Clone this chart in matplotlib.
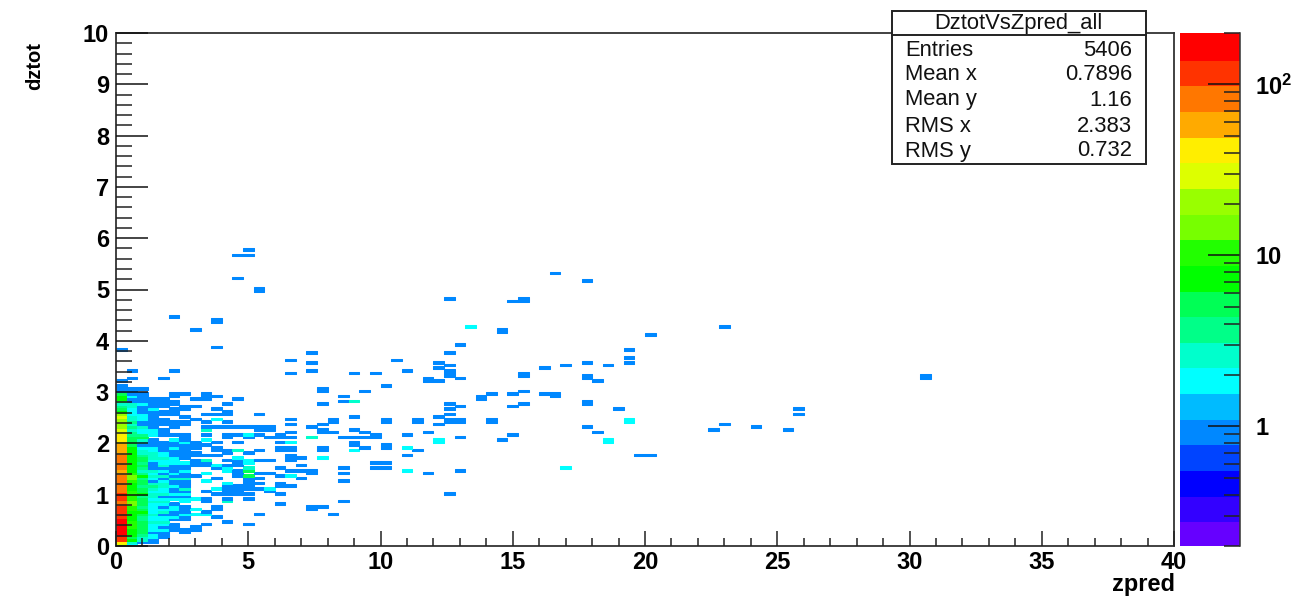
import numpy as np
import matplotlib
matplotlib.use("Agg")
import matplotlib.pyplot as plt
from matplotlib.colors import ListedColormap, LogNorm
from matplotlib.patches import Rectangle
from matplotlib.lines import Line2D
from matplotlib.ticker import NullFormatter

plt.rcParams['font.family'] = ['Liberation Sans', 'DejaVu Sans']
plt.rcParams['mathtext.fontset'] = 'custom'
plt.rcParams['mathtext.bf'] = 'Liberation Sans:bold'
plt.rcParams['mathtext.rm'] = 'Liberation Sans:bold'

# Histogram binning: 100 bins of zpred, 200 bins of dztot
zpred_range = (0, 40)
dztot_range = (0, 10)
n_zpred_bins = 100
n_dztot_bins = 200

# Bin contents of the densest columns, listed upward from dztot = 0
column_0 = [30,40,110,120,150,160,170,170,160,160,150,110,120,110,105,110,85,75,110,120,110,90,90,85,80,90,80,75,65,60,
            75,80,80,80,75,75,65,60,55,52,45,45,48,40,30,28,25,22,25,22,28,20,8,6,4,3,5,8,8,6,1,1,1]
column_1 = [2,3,7,6,7,8,8,9,10,9,8,8,8,8,9,12,13,14,12,10,9,9,8,8,8,9,13,14,12,8,8,
            8,8,7,8,7,8,7,8,6,6,5,5,4,4,3,4,3,4,3,3,2,2,2,3,3,1,1,2,1,1,1]
column_2 = [0,1,3,3,4,5,5,5,6,5,4,4,6,7,5,4,5,6,5,4,7,6,5,4,6,5,4,7,4,3,4,
            5,4,5,6,4,3,3,2,1,2,3,6,4,2,2,3,1,1,2,2,2,1,1,1,2,1,1,1,1,0,1]
column_3 = [0,1,1,2,2,1,2,2,2,3,2,2,3,2,2,2,2,3,2,3,3,2,3,4,3,1,2,3,2,3,1,
            1,1,2,3,3,3,2,2,1,1,1,0,2,2,2,1,1,1,1,1,1,1,2,1,1,1,1]
column_4 = [0,0,0,1,1,1,2,1,2,3,2,2,1,3,2,1,2,3,2,1,3,2,2,3,3,2,1,3,1,2,1,
            3,2,2,3,2,2,1,1,1,1,0,0,1,1,1,0,1,1,1,0,1,1,0,1,1,1,1]
column_5 = [0,0,0,0,0,0,1,1,1,0,1,2,1,1,2,2,1,0,2,1,2,1,1,2,1,1,3,1,2,1,1,
            1,2,2,2,1,1,1,2,1,1,2,0,1,0,0,1,1,1,0,0,1,1,1,0,1,1,0,1,1]
column_6 = [0,0,0,0,0,1,1,0,0,0,1,1,2,1,1,1,0,2,2,1,2,1,3,1,1,1,3,1,1,2,1,
            1,2,0,1,1,1,1,1,1,2,1,1,1,0,0,0,1,1,0,1,0,0,1,1,0,0,0,0,1]

# Isolated bins with one entry: column indices, and the dztot rows filled in each
single_cols = [0,1,4,5,7,8,9,10,11,12,13,14,15,16,17,18,19,20,21,22,23,24,25,26,27,28,29,30,31,32,
               34,35,36,37,38,40,41,42,44,45,46,47,48,49,50,56,57,60,63,64,76]
single_rows = [[64,76],[65,68],[65],[68,89],
               [84,57,54,49,40,39,38,36,35,33,32,31,27,7,6],
               [59,58,57,51,48,46,43,39,35,32,31,21,18,17,13,8],
               [88,87,77,58,53,51,46,40,38,37,35,30,26,20,15,14,11],
               [55,52,51,48,46,43,42,37,36,33,31,23,22,21,20,18,9],
               [113,104,57,46,43,40,33,32,31,29,28,27,23,22,21,20],
               [115,113,46,42,36,26,25,24,23,22,20,18,8],
               [100,99,51,46,45,43,37,33,28,26,24,22,12],
               [46,45,42,33,28,21],
               [43,42,40,38,37,30,27,24,23,20,16],
               [72,67,49,47,44,42,38,37,35,34,33,29,23],
               [34,31,29,26],
               [75,71,68,46,29,28,15,14],
               [61,60,55,47,45,44,38,37,15],
               [49,48,44,12],
               [58,56,42,30,28,25,17],
               [67,50,45,42,40,39],
               [60,44,42,38],
               [67,43,42,32,30],
               [62,49,48,39,38,32,30],
               [72],
               [68,43,35],
               [49,48,37],
               [65,64,44,28],
               [71,69,64,50,47],
               [96,75,70,68,67,66,55,53,51,49,48,20],
               [78,65,54,49,48,42,29],
               [58,57],
               [59,49,48],
               [84,83,41],
               [95,59,54,43],
               [96,95,67,66,60,55],
               [69,59],
               [106,59,58],
               [70],
               [103,71,66,65,56,55,46],
               [64,44],
               [70],
               [53],
               [76,73,71],
               [35],
               [82,35],
               [45],
               [85,47],
               [46],
               [45],
               [53,51],
               [66,65]]

# Isolated bins with two entries
double_cols = [7,8,9,10,11,12,14,16,19,22,27,30,33,42,46,48]
double_rows = [[18,14,12],[41,28,25,12],[49,31,22],[30,29,24],[34],[43,33,32],[22],[40,27],
               [34],[37],[38,29],[41,40],[85],[30],[41,40],[49,48]]

# Isolated bins with three and with five entries
triple_cols = [8,10,11,12,18,22]
triple_rows = [[45,33],[17],[37],[30],[42],[56]]
quintuple_cols = [12]
quintuple_rows = [[29,27]]

# Colour palette of the 20 contour levels, bottom to top
palette = ['#6600ff','#3300ff','#0000ff','#0044ff','#0088ff','#00bbff','#00ffff','#00ffcc','#00ff88','#00ff55',
           '#00ff00','#22ff00','#77ff00','#99ff00','#ddff00','#ffee00','#ffaa00','#ff7700','#ff3300','#ff0000']
z_limits = (0.2, 200)

# Statistics box
stats_title = 'DztotVsZpred_all'
stats_names = ['Entries', 'Mean x', 'Mean y', 'RMS x', 'RMS y']
stats_values = ['5406', '0.7896', '1.16', '2.383', '0.732']

counts = np.zeros((n_dztot_bins, n_zpred_bins))
for c, column in enumerate([column_0, column_1, column_2, column_3, column_4, column_5, column_6]):
    counts[:len(column), c] = column
for cols, rows, n in [(single_cols, single_rows, 1), (double_cols, double_rows, 2),
                      (triple_cols, triple_rows, 3), (quintuple_cols, quintuple_rows, 5)]:
    for c, rr in zip(cols, rows):
        for r in rr:
            counts[r, c] = max(counts[r, c], n)

x_edges = np.linspace(*zpred_range, n_zpred_bins + 1)
y_edges = np.linspace(*dztot_range, n_dztot_bins + 1)

W, H = 1299, 602
fig = plt.figure(figsize=(W / 100, H / 100), dpi=100, facecolor='white')


def frac(x, y):
    return x / W, 1 - y / H


ax = fig.add_axes([116 / W, 1 - 546 / H, (1174 - 116) / W, (546 - 33) / H])
cmap = ListedColormap(palette)
norm = LogNorm(*z_limits)
mesh = ax.pcolormesh(x_edges, y_edges, np.ma.masked_equal(counts, 0), cmap=cmap, norm=norm,
                     edgecolors='face', linewidth=0.75, antialiased=True)
ax.set_xlim(*zpred_range)
ax.set_ylim(*dztot_range)
ax.set_xticks(np.arange(0, 41, 5))
ax.set_xticks(np.arange(0, 41, 1), minor=True)
ax.set_yticks(np.arange(0, 11, 1))
ax.set_yticks(np.arange(0, 10.01, 0.2), minor=True)
ax.tick_params(axis='x', which='major', direction='in', length=11, width=1.1, color='#222222', pad=3.5)
ax.tick_params(axis='x', which='minor', direction='in', length=5.8, width=1.1, color='#222222')
ax.tick_params(axis='y', which='major', direction='in', length=23, width=1.1, color='#111111', pad=5)
ax.tick_params(axis='y', which='minor', direction='in', length=11.5, width=1.1, color='#222222')
ax.tick_params(labelsize=17)
for lab in ax.get_xticklabels() + ax.get_yticklabels():
    lab.set_fontweight('bold')
for s in ax.spines.values():
    s.set_linewidth(1.3)
    s.set_color('#333333')
ax.set_axisbelow(False)

fig.text(*frac(1175, 585), 'zpred', ha='right', va='center', fontsize=17, fontweight='bold')
fig.text(*frac(35, 66), 'dztot', ha='center', va='center', rotation=90, fontsize=14.5, fontweight='bold')

# Colour scale
cax = fig.add_axes([1180 / W, 1 - 546 / H, 60 / W, (546 - 33) / H])
cb = fig.colorbar(mesh, cax=cax)
cb.outline.set_visible(False)
cb.solids.set_edgecolor('face')
cax.set_yscale('log')
cax.set_ylim(*z_limits)
cax.yaxis.set_ticks([1, 10, 100])
cax.yaxis.set_ticklabels(['1', '10', r'$\mathbf{10^{2}}$'])
minor = [d * m for d in (0.1, 1, 10, 100) for m in range(2, 10) if z_limits[0] <= d * m <= z_limits[1]
         and d * m not in (1, 10, 100)]
cax.yaxis.set_ticks(minor, minor=True)
cax.yaxis.set_minor_formatter(NullFormatter())
cax.tick_params(axis='y', which='major', direction='in', length=23, width=1.1, color='#111111',
                labelsize=17, pad=11, right=True, left=False)
cax.tick_params(axis='y', which='minor', direction='in', length=11.5, width=1.1, color='#222222',
                right=True, left=False)
for lab in cax.get_yticklabels():
    lab.set_fontweight('bold')
cax.spines['right'].set_visible(True)
cax.spines['right'].set_linewidth(1.1)
cax.spines['right'].set_color('#333333')

# Statistics box
left, right, top, sep, bottom = 892, 1145.5, 11, 35, 164
x0, y0 = frac(left, bottom)
fig.add_artist(Rectangle((x0, y0), (right - left) / W, (bottom - top) / H, transform=fig.transFigure,
                         facecolor='white', edgecolor='#222222', linewidth=1.4, zorder=5))
fig.add_artist(Line2D([left / W, right / W], [1 - sep / H, 1 - sep / H], transform=fig.transFigure,
                      color='#222222', linewidth=1.4, zorder=6))
fig.text(*frac((left + right) / 2, 23), stats_title, ha='center', va='center', fontsize=15.8,
         color='#111111', zorder=7)
for y, name, val in zip([50, 75, 100, 127, 151], stats_names, stats_values):
    fig.text(*frac(905, y), name, ha='left', va='center', fontsize=15.8, color='#111111', zorder=7)
    fig.text(*frac(1132, y), val, ha='right', va='center', fontsize=15.8, color='#111111', zorder=7)

fig.savefig('out.png', dpi=100)
